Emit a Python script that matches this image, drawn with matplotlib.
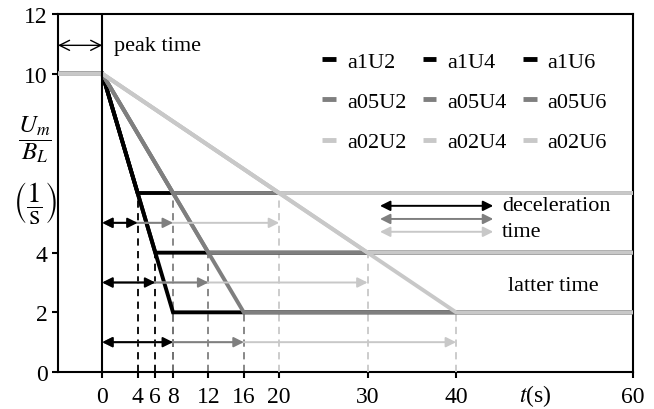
import matplotlib
matplotlib.use("Agg")
import matplotlib.pyplot as plt
from matplotlib.lines import Line2D

plt.rcParams['font.family'] = ['Liberation Serif', 'DejaVu Serif']
plt.rcParams['mathtext.fontset'] = 'stix'
plt.rcParams['font.size'] = 16

# data
peak = 10
t_left = -5
t_end = 60
rates = [1, 0.5, 0.2]          # a1, a05, a02
rate_names = ["a1", "a05", "a02"]
levels = [2, 4, 6]             # U2, U4, U6
colors = ["#000000", "#7f7f7f", "#c8c8c8"]
arrow_y = {2: 1, 4: 3, 6: 5}
xticks = [0, 4, 6, 8, 12, 16, 20, 30, 40, 60]
yticks = [0, 2, 4, 10, 12]

fig = plt.figure(figsize=(6.54, 4.10), dpi=100)
ax = fig.add_axes([58 / 654, 37 / 410, 575 / 654, 358 / 410])

for i, (a, name, c) in enumerate(zip(rates, rate_names, colors)):
    for U in levels:
        tdec = (peak - U) / a
        # dashed marker of the end of deceleration
        ax.plot([tdec, tdec], [0, U], color=c, lw=1.3, ls=(0, (4, 3)), zorder=1 + i)
        ax.plot([t_left, 0, tdec, t_end], [peak, peak, U, U], color=c, lw=2.8,
                solid_joinstyle='miter', zorder=5 + i)

# arrows of deceleration time
for i in range(len(rates) - 1, -1, -1):
    a, c = rates[i], colors[i]
    for U in levels:
        tdec = (peak - U) / a
        ax.annotate("", xy=(tdec, arrow_y[U]), xytext=(0, arrow_y[U]),
                    arrowprops=dict(arrowstyle="<|-|>", color=c, lw=1.4,
                                    mutation_scale=15, shrinkA=0, shrinkB=0),
                    zorder=10 + (2 - i))

# key arrows
key_y = [5.57, 5.13, 4.70]
for y, c in zip(key_y, colors):
    ax.annotate("", xy=(44.2, y), xytext=(31.4, y),
                arrowprops=dict(arrowstyle="<|-|>", color=c, lw=1.4,
                                mutation_scale=15, shrinkA=0, shrinkB=0))
ax.text(45.2, 5.57, "deceleration", va='center', ha='left')
ax.text(45.2, 4.72, "time", va='center', ha='left')
ax.text(51, 2.9, "latter time", va='center', ha='center')

# peak time
ax.axvline(0, color='black', lw=1.5, zorder=20)
ax.annotate("", xy=(0, 10.95), xytext=(t_left, 10.95),
            arrowprops=dict(arrowstyle="<->", color='black', lw=1.0,
                            mutation_scale=18, shrinkA=0, shrinkB=0))
ax.text(1.3, 10.95, "peak time", va='center', ha='left')

ax.set_xlim(t_left, t_end)
ax.set_ylim(0, 12)
ax.set_xticks(xticks)
ax.set_yticks(yticks)
ax.tick_params(direction='out', length=4, width=1.5, labelsize=17)
ax.tick_params(axis='x', pad=6)
for s in ax.spines.values():
    s.set_linewidth(1.5)
ax.text(48.9, -0.33, r"$t$(s)", ha='center', va='top', fontsize=17)

hs, labs = [], []
for U in levels:
    for name, c in zip(rate_names, colors):
        hs.append(Line2D([], [], color=c, lw=3.5, solid_capstyle='butt'))
        labs.append("%sU%d" % (name, U))
ax.legend(hs, labs, ncol=3, loc='upper right', bbox_to_anchor=(0.955, 0.895),
          frameon=False, borderpad=0, handlelength=0.6, handletextpad=0.5,
          columnspacing=0.75, labelspacing=0.88, borderaxespad=0)

fig.text(35 / 654, 1 - 140 / 410, r"$\dfrac{U_m}{B_L}$", ha='center', va='center', fontsize=18)
fig.text(35 / 654, 1 - 204 / 410, r"$\left(\dfrac{1}{\mathrm{s}}\right)$", ha='center', va='center', fontsize=21)

fig.savefig("out.png", dpi=100)
